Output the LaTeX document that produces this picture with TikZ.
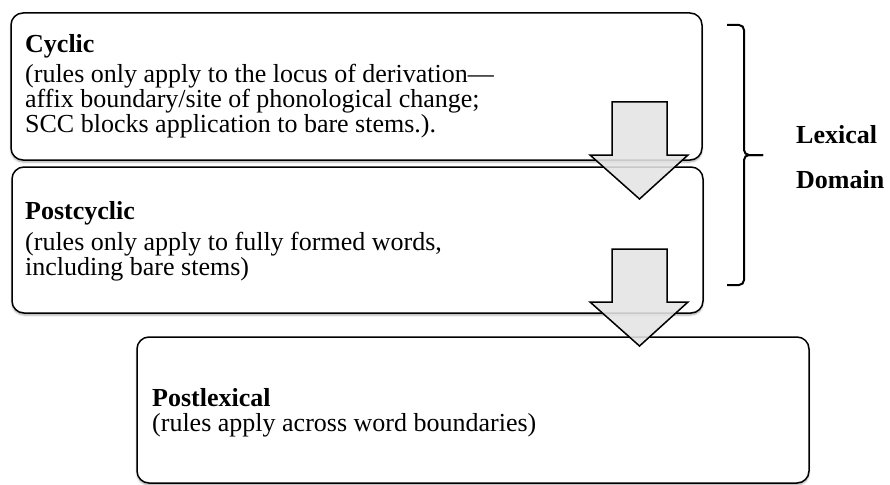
\documentclass[tikz,border=0pt]{standalone}
\usepackage{fontspec}
\setmainfont{Liberation Serif}
\usepackage{xcolor}
\usepackage{tikz}
\usetikzlibrary{positioning, calc, shadows.blur}
\definecolor{boxline}{HTML}{000000}
\definecolor{arrowgray}{HTML}{E4E4E4}
\definecolor{shadowgray}{HTML}{7F7F7F}

\tikzset{
  stagebox/.style={draw=boxline, line width=1.5pt, rounded corners=12pt, fill=white,
    blur shadow={shadow xshift=0pt, shadow yshift=-2pt, shadow opacity=35, shadow blur steps=4}},
  stagetext/.style={anchor=north west, align=left, inner sep=0pt,
    font=\fontsize{26}{25}\selectfont},
  blockarrow/.style={draw=black, line width=1.5pt, fill=arrowgray, fill opacity=0.88, line join=miter},
  domainbrace/.style={draw=black, line width=2pt, rounded corners=5pt}
}

\begin{document}
\begin{tikzpicture}[x=1pt, y=-1pt]
  \useasboundingbox (0,0) rectangle (890,484);

  % Stage boxes
  \node[stagebox, minimum width=691, minimum height=147] (cyc) at (356.5, 86.5) {};
  \node[stagebox, minimum width=691, minimum height=146] (postcyc) at (357.5, 240) {};
  \node[stagebox, minimum width=672, minimum height=146] (postlex) at (473, 410) {};

  % Stage texts
  \node[stagetext] (cyctext) at (25, 34) {\textbf{Cyclic}\\[5pt]
    (rules only apply to the locus of derivation—\\
    affix boundary/site of phonological change;\\
    SCC blocks application to bare stems.).};
  \node[stagetext] (postcyctext) at (25, 201) {\textbf{Postcyclic}\\[6pt]
    (rules only apply to fully formed words,\\
    including bare stems)};
  \node[stagetext] (postlextext) at (152, 388) {\textbf{Postlexical}\\
    (rules apply across word boundaries)};

  % Block arrows between the stages
  \foreach \ytop in {102, 249}
    \draw[blockarrow] (612,\ytop) -- (667,\ytop) -- (667,\ytop+53) -- (688,\ytop+53)
      -- (639.5,\ytop+97) -- (590,\ytop+53) -- (612,\ytop+53) -- cycle;

  % Lexical domain brace
  \draw[domainbrace] (727,25) -- (744,25) -- (744,155) -- (763,155);
  \draw[domainbrace] (763,155) -- (744,155) -- (744,285) -- (727,285);
  \node[anchor=north west, align=left, inner sep=0pt,
    font=\fontsize{26}{26}\selectfont\bfseries] (lexlabel) at (796, 125) {Lexical\\[19pt]Domain};
\end{tikzpicture}
\end{document}
